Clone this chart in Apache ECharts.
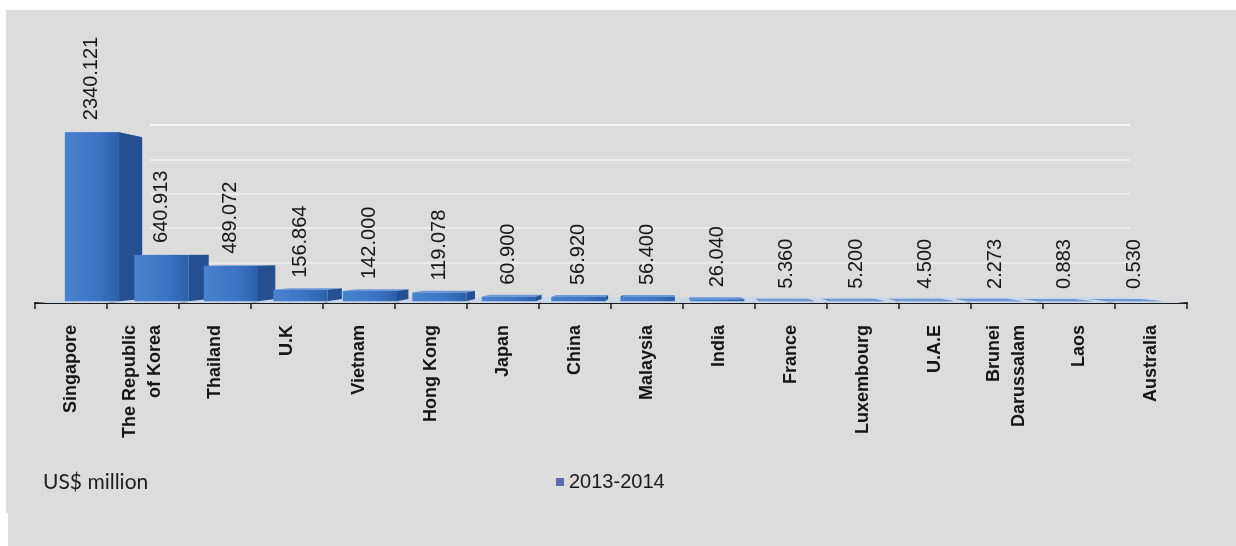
<!DOCTYPE html>
<html>
<head>
<meta charset="utf-8">
<title>US$ million 2013-2014</title>
<script src="https://cdn.jsdelivr.net/npm/echarts@6.0.0/dist/echarts.min.js"></script>
<style>
	html, body { margin: 0; padding: 0; background: #fff; }
	#chart { width: 1236px; height: 546px; }
</style>
</head>
<body>
<div id="chart"></div>
<script>
var countries = ['Singapore', 'The Republic\nof Korea', 'Thailand', 'U.K', 'Vietnam', 'Hong Kong', 'Japan', 'China',
	'Malaysia', 'India', 'France', 'Luxembourg', 'U.A.E', 'Brunei\nDarussalam', 'Laos', 'Australia'];
var investment = [2340.121, 640.913, 489.072, 156.864, 142.000, 119.078, 60.900, 56.920,
	56.400, 26.040, 5.360, 5.200, 4.500, 2.273, 0.883, 0.530];
var seriesName = '2013-2014';
var unitLabel = 'US$ million';
var valueMax = 2500;
var wallStep = 500;

var FONT = '"Liberation Sans", Arial, sans-serif';

// fake perspective : vanishing point, bar front depth, bar depth, floor depth
var K_FRONT = 0.035, K_DEPTH = 0.042, K_FLOOR = 0.11;

function toward(p, k, vp) {
	return [p[0] + k * (vp[0] - p[0]), p[1] + k * (vp[1] - p[1])];
}

function renderBar(params, api) {
	var cat = api.value(0);
	var base = api.coord([cat, 0]);
	var top = api.coord([cat, api.value(1)]);
	var band = api.size([1, 0])[0];
	var cs = params.coordSys;
	var vp = [cs.x + cs.width * 0.551, base[1] - 53];
	var half = band * 0.39;

	var f = [[base[0] - half, top[1]], [base[0] + half, top[1]], [base[0] + half, base[1]], [base[0] - half, base[1]]]
		.map(function(p) { return toward(p, K_FRONT, vp); });
	var b = f.map(function(p) { return toward(p, K_DEPTH, vp); });

	var floorL = [base[0] - band / 2, base[1]];
	var floorR = [base[0] + band / 2, base[1]];
	var floor = [floorL, floorR, toward(floorR, K_FLOOR, vp), toward(floorL, K_FLOOR, vp)];

	var side;
	if (f[1][0] < vp[0]) {
		side = [f[1], b[1], b[2], f[2]];
	} else {
		side = [f[0], b[0], b[3], f[3]];
	}

	var cx = (f[0][0] + f[1][0]) / 2;

	return {
		type: 'group',
		children: [{
			type: 'polygon', z2: 0,
			shape: { points: floor },
			style: { fill: '#cbd7e8' }
		}, {
			type: 'polygon', z2: 1,
			shape: { points: [f[0], f[1], b[1], b[0]] },
			style: { fill: '#6a98d8' }
		}, {
			type: 'polygon', z2: 2,
			shape: { points: side },
			style: { fill: '#244f90' }
		}, {
			type: 'polygon', z2: 3,
			shape: { points: f },
			style: {
				fill: new echarts.graphic.LinearGradient(0, 0, 1, 0, [
					{ offset: 0, color: '#4a82cf' },
					{ offset: 0.65, color: '#3a73c2' },
					{ offset: 1, color: '#2c5fa9' }
				])
			}
		}, {
			type: 'text', z2: 4,
			x: cx, y: f[0][1] - 12,
			rotation: Math.PI / 2,
			style: {
				text: investment[cat].toFixed(3),
				align: 'left', verticalAlign: 'middle',
				fontSize: 20, fontFamily: FONT, fill: '#161616'
			}
		}]
	};
}

var chart = echarts.init(document.getElementById('chart'), null, { renderer: 'canvas' });

var option = {
	backgroundColor: '#ffffff',
	animation: false,
	graphic: [{
		type: 'rect', z: -100, silent: true,
		shape: { x: 6, y: 10, width: 1230, height: 503 },
		style: { fill: '#dcdcdc' }
	}, {
		type: 'rect', z: -100, silent: true,
		shape: { x: 8, y: 513, width: 1228, height: 33 },
		style: { fill: '#dddddd' }
	}],
	title: {
		text: unitLabel,
		left: 38, top: 467,
		textStyle: { fontSize: 21, fontWeight: 'normal', fontFamily: 'Lato, "Open Sans", sans-serif', color: '#1e1e1e' }
	},
	legend: {
		data: [{ name: seriesName, itemStyle: { color: '#5a6cb2' } }],
		left: 551, top: 467,
		icon: 'rect', itemWidth: 8, itemHeight: 8,
		selectedMode: false,
		textStyle: { fontSize: 20, fontFamily: FONT, color: '#1a1a1a' }
	},
	grid: [{
		left: 35, right: 49, top: 116, bottom: 243
	}, {
		// back wall of the 3d plot
		left: 150, right: 106, top: 125, bottom: 249
	}],
	xAxis: [{
		type: 'category',
		gridIndex: 0,
		data: countries,
		axisLine: { lineStyle: { color: '#1a1a1a', width: 2 } },
		axisTick: { show: true, length: 6, lineStyle: { color: '#1a1a1a', width: 1.5 } },
		axisLabel: {
			interval: 0, rotate: 90, margin: 22,
			fontSize: 18, fontWeight: 'bold', fontFamily: FONT, color: '#151515', lineHeight: 25
		}
	}, {
		type: 'category',
		gridIndex: 1,
		data: countries,
		show: false
	}],
	yAxis: [{
		type: 'value',
		gridIndex: 0,
		min: 0, max: valueMax, interval: wallStep,
		show: false,
		splitLine: { show: false }
	}, {
		type: 'value',
		gridIndex: 1,
		min: 0, max: valueMax, interval: wallStep,
		axisLine: { show: false },
		axisTick: { show: false },
		axisLabel: { show: false },
		splitLine: {
			show: true, showMinLine: false,
			lineStyle: {
				color: ['rgba(255,255,255,0.4)', 'rgba(255,255,255,0.45)', 'rgba(255,255,255,0.45)',
					'rgba(255,255,255,0.5)', 'rgba(255,255,255,0.75)', 'rgba(255,255,255,0.95)'],
				width: 2
			}
		}
	}],
	series: [{
		name: seriesName,
		type: 'custom',
		xAxisIndex: 0,
		yAxisIndex: 0,
		clip: false,
		silent: true,
		renderItem: renderBar,
		encode: { x: 0, y: 1 },
		data: investment.map(function(v, i) { return [i, v]; })
	}]
};

chart.setOption(option);
</script>
</body>
</html>
